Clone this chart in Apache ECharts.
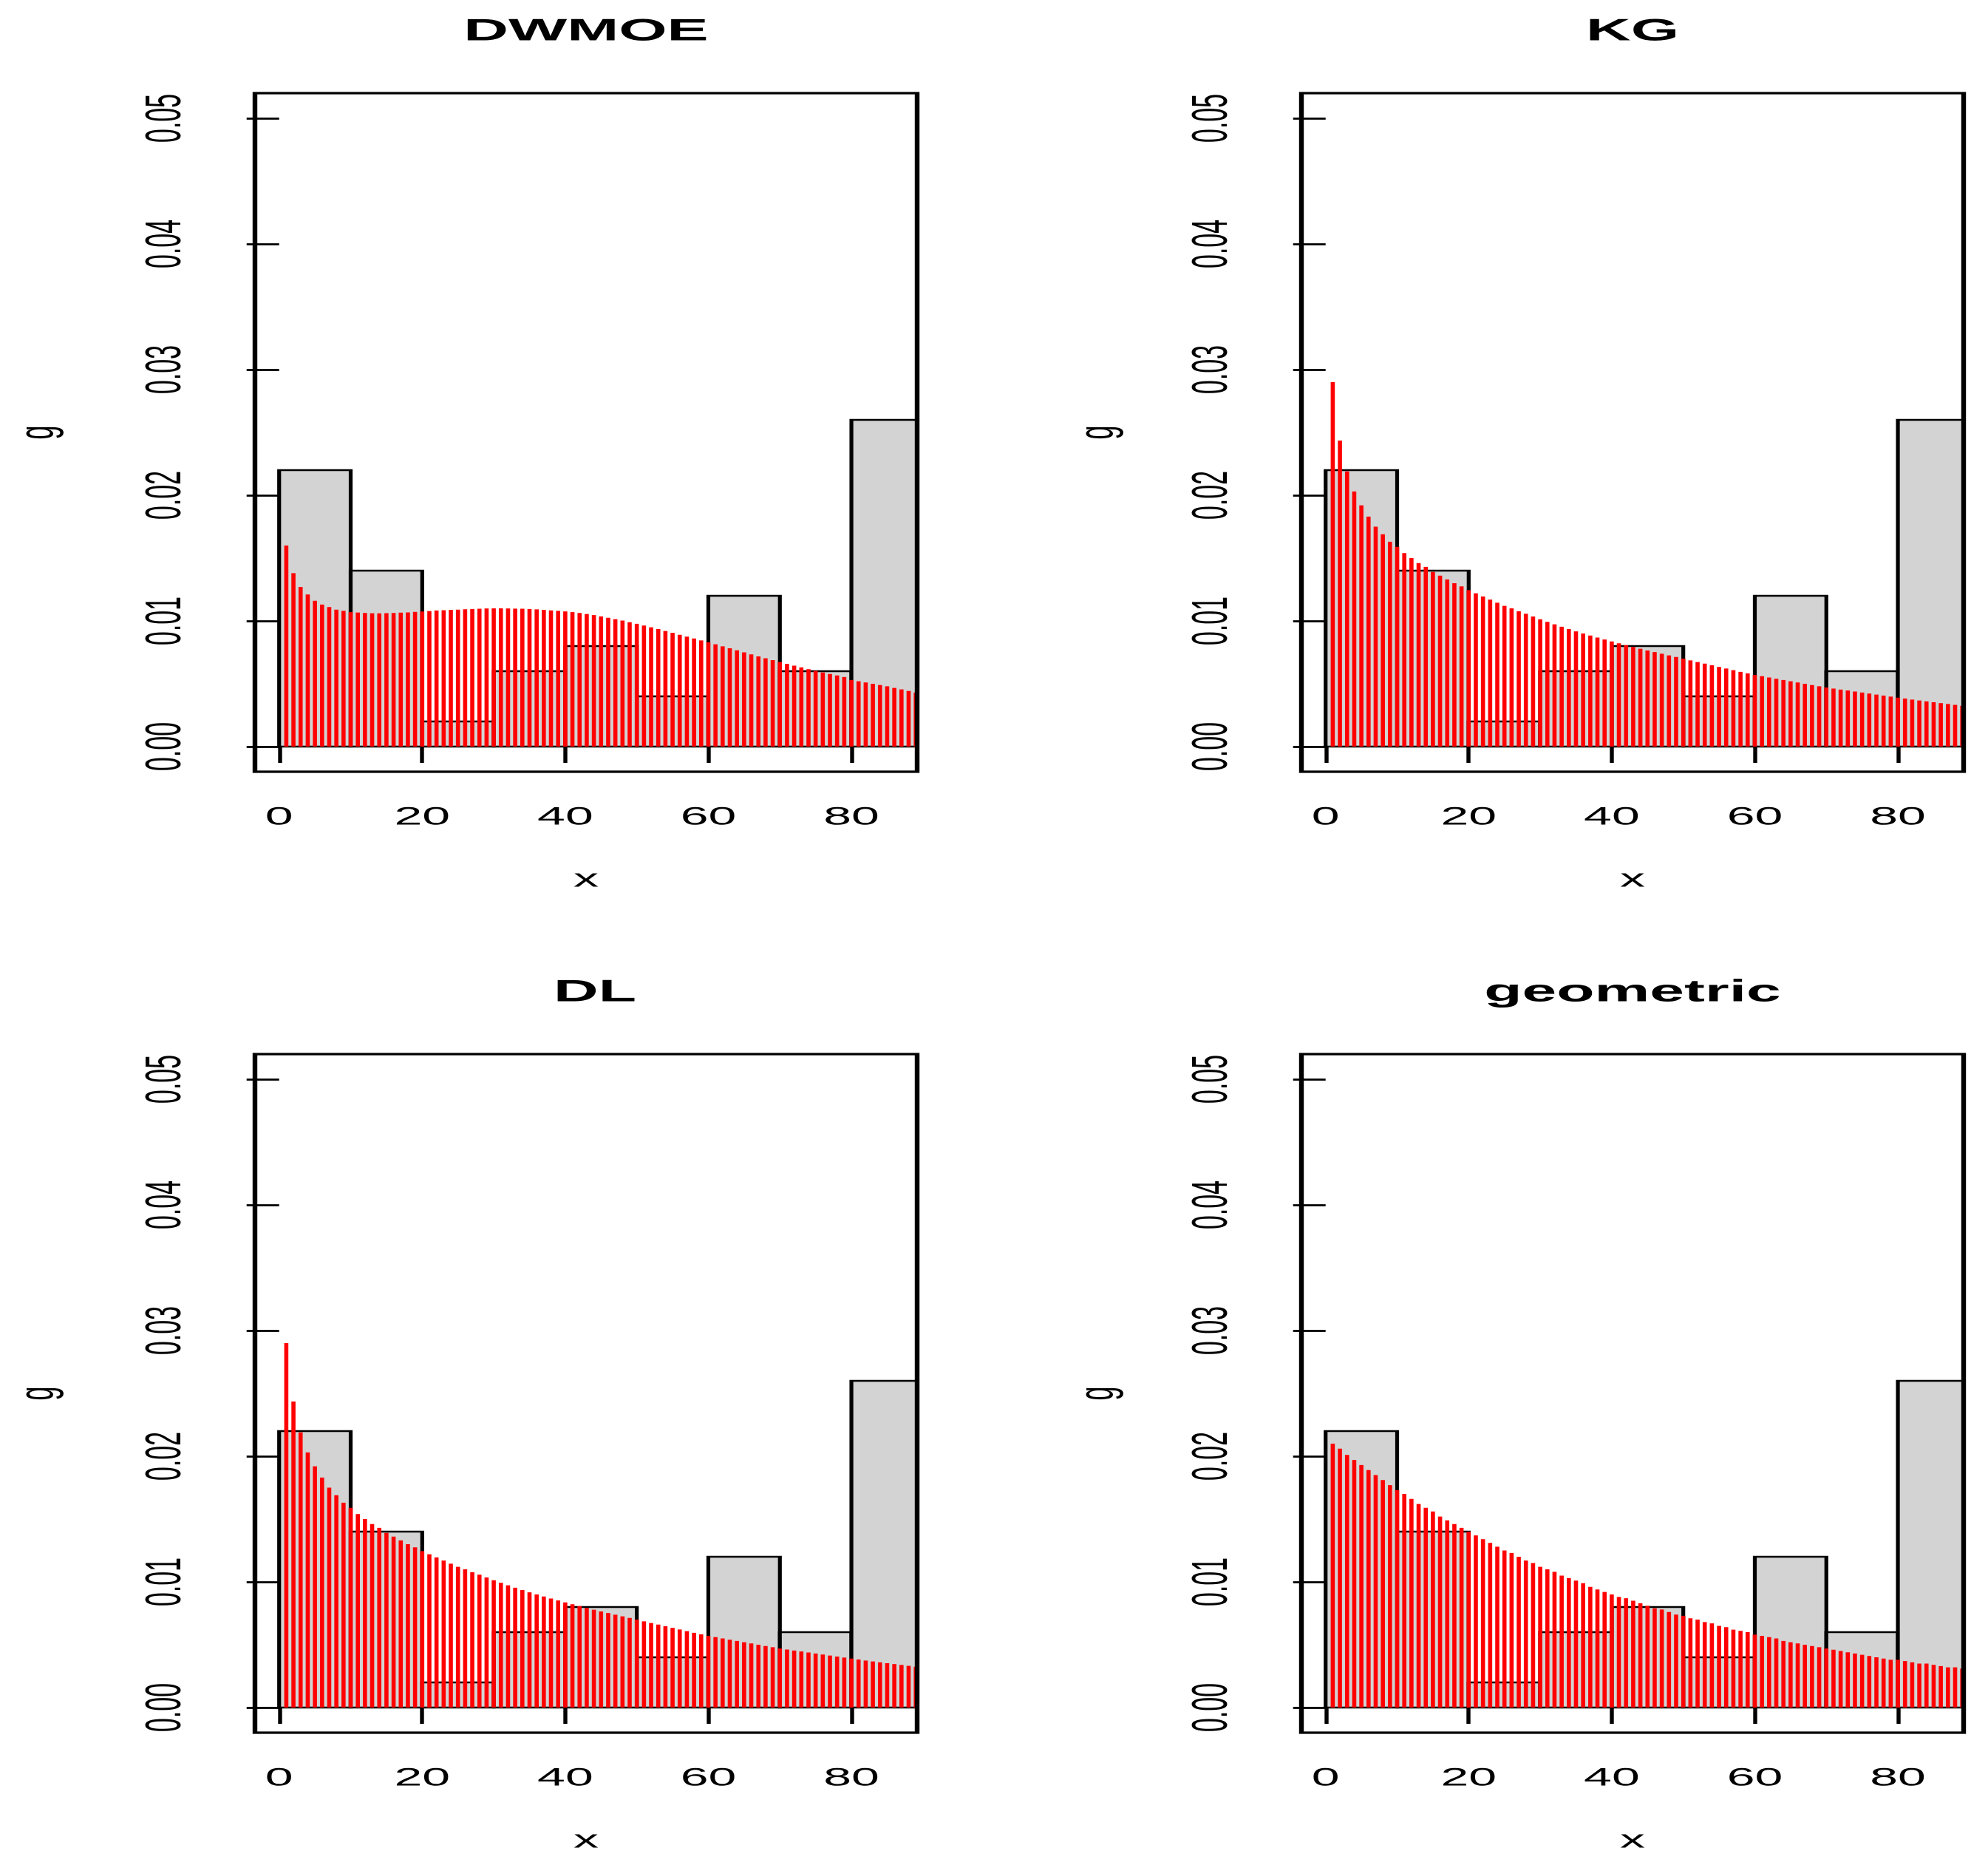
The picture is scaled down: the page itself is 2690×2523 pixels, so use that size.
<!DOCTYPE html>
<html><head><meta charset="utf-8">
<script src="https://cdn.jsdelivr.net/npm/echarts@6/dist/echarts.min.js"></script>
<style>
html,body{margin:0;padding:0;background:#fff;overflow:hidden;}
#wrap{width:2690px;height:2523px;overflow:hidden;background:#fff;}
#chart{width:1345px;height:2523px;transform:scaleX(2);transform-origin:0 0;}
</style></head><body><div id="wrap"><div id="chart"></div></div>
<script>
// ---------- data ----------
const panelTitles = ['DWMOE', 'KG', 'DL', 'geometric'];
const binStart = [0, 10, 20, 30, 40, 50, 60, 70, 80];
const binEnd   = [10, 20, 30, 40, 50, 60, 70, 80, 90];
const histDensity = [0.022, 0.014, 0.002, 0.006, 0.008, 0.004, 0.012, 0.006, 0.026];
const xTicks = [0, 20, 40, 60, 80];
const yTicks = [0, 0.01, 0.02, 0.03, 0.04, 0.05];
const support = [1,2,3,4,5,6,7,8,9,10,11,12,13,14,15,16,17,18,19,20,21,22,23,24,25,26,27,28,29,30,
  31,32,33,34,35,36,37,38,39,40,41,42,43,44,45,46,47,48,49,50,51,52,53,54,55,56,57,58,59,60,
  61,62,63,64,65,66,67,68,69,70,71,72,73,74,75,76,77,78,79,80,81,82,83,84,85,86,87,88,89];
const pmfDWMOE = [0.0160,0.0138,0.0127,0.0121,0.0116,0.0113,0.0111,0.0109,0.0108,0.0107,
  0.01067,0.01063,0.01061,0.0106,0.01062,0.01063,0.01066,0.01068,0.01072,0.01075,
  0.01079,0.01083,0.01085,0.01088,0.0109,0.01093,0.01095,0.01097,0.01099,0.0110,
  0.0110,0.01099,0.01098,0.01097,0.01094,0.01092,0.01088,0.01084,0.0108,0.01076,
  0.0107,0.01063,0.01055,0.01046,0.01036,0.01025,0.01014,0.01003,0.0099,0.00977,
  0.00963,0.00949,0.00935,0.0092,0.00905,0.0089,0.00875,0.0086,0.00845,0.0083,
  0.00814,0.00798,0.00782,0.00766,0.0075,0.00734,0.00718,0.00703,0.00688,0.00673,
  0.00658,0.00644,0.0063,0.00616,0.00603,0.0059,0.00578,0.00566,0.00554,0.0053,
  0.0052,0.0051,0.005,0.0049,0.0048,0.00467,0.00455,0.00443,0.0043];
const pmfKG = [0.0290,0.02435,0.0219,0.0203,0.0192,0.0183,0.0175,0.0169,0.0163,0.0159,
  0.0154,0.0150,0.0146,0.0143,0.0139,0.0136,0.0133,0.0130,0.01275,0.01245,
  0.0122,0.01195,0.0117,0.01145,0.0112,0.0110,0.01077,0.01057,0.01035,0.01013,
  0.00993,0.00973,0.00954,0.00935,0.00917,0.0090,0.00884,0.00868,0.00852,0.00837,
  0.00822,0.00807,0.00793,0.00779,0.00765,0.00752,0.00739,0.00726,0.00713,0.0070,
  0.00686,0.00673,0.0066,0.00647,0.00634,0.00621,0.00608,0.00595,0.00582,0.0057,
  0.0056,0.0055,0.0054,0.0053,0.0052,0.0051,0.0050,0.0049,0.0048,0.0047,
  0.00462,0.00454,0.00446,0.00438,0.0043,0.00422,0.00414,0.00406,0.00398,0.0039,
  0.00382,0.00374,0.00367,0.0036,0.00353,0.00346,0.00339,0.00332,0.00325];
const pmfDL = [0.0290,0.02435,0.0219,0.0203,0.0192,0.0183,0.0175,0.0169,0.0163,0.0159,
  0.0154,0.0150,0.0146,0.0143,0.0139,0.0136,0.0133,0.0130,0.01275,0.01245,
  0.0122,0.01195,0.0117,0.01145,0.0112,0.0110,0.01077,0.01057,0.01035,0.01013,
  0.00993,0.00973,0.00954,0.00935,0.00917,0.0090,0.00884,0.00868,0.00852,0.00837,
  0.00822,0.00807,0.00793,0.00779,0.00765,0.00752,0.00739,0.00726,0.00713,0.0070,
  0.00686,0.00673,0.0066,0.00647,0.00634,0.00621,0.00608,0.00595,0.00582,0.0057,
  0.0056,0.0055,0.0054,0.0053,0.0052,0.0051,0.0050,0.0049,0.0048,0.0047,
  0.00462,0.00454,0.00446,0.00438,0.0043,0.00422,0.00414,0.00406,0.00398,0.0039,
  0.00382,0.00374,0.00367,0.0036,0.00353,0.00346,0.00339,0.00332,0.00325];
const pmfGeometric = [0.0210,0.0206,0.0201,0.0197,0.0193,0.0189,0.0185,0.0181,0.0177,0.0173,
  0.0170,0.0166,0.0162,0.0159,0.0156,0.0152,0.0149,0.0146,0.0143,0.0140,
  0.0137,0.0134,0.0131,0.0128,0.0125,0.0123,0.0120,0.0117,0.0115,0.0112,
  0.0110,0.0108,0.0105,0.0103,0.0101,0.0099,0.0096,0.0094,0.0092,0.0090,
  0.0088,0.0087,0.0085,0.0083,0.0081,0.0079,0.0078,0.0076,0.0074,0.0073,
  0.0071,0.0070,0.0068,0.0067,0.0065,0.0064,0.0062,0.0061,0.0060,0.0058,
  0.0057,0.0056,0.0055,0.0053,0.0052,0.0051,0.0050,0.0049,0.0048,0.0047,
  0.0046,0.0045,0.0044,0.0043,0.0042,0.0041,0.0040,0.0039,0.0038,0.0038,
  0.0037,0.0036,0.0035,0.0035,0.0034,0.0033,0.0032,0.0032,0.0031];
const pmfs = [pmfDWMOE, pmfKG, pmfDL, pmfGeometric];

// ---------- layout (unstretched coordinates; page is stretched 2x horizontally) ----------
const FONT = '"Liberation Sans", Arial, Helvetica, sans-serif';
const panels = [
  {left: 172.5, top: 126, titleDx: 0, gDx: 0},
  {left: 880.5, top: 126, titleDx: 0, gDx: 9},
  {left: 172.5, top: 1426, titleDx: 6, gDx: 0},
  {left: 880.5, top: 1426, titleDx: 0, gDx: 9}
];
const PW = 448, PH = 918;

const histData = binStart.map((s, i) => [s, binEnd[i], histDensity[i]]);

function renderHist(params, api) {
  const x0 = api.value(0), x1 = api.value(1), h = api.value(2);
  const p0 = api.coord([x0, 0]);
  const p1 = api.coord([x1, h]);
  const cs = params.coordSys;
  const l = Math.max(p0[0], cs.x);
  const r = Math.min(p1[0], cs.x + cs.width);
  return {
    type: 'rect',
    shape: {x: l, y: p1[1], width: r - l, height: p0[1] - p1[1]},
    style: {fill: '#d3d3d3', stroke: '#000', lineWidth: 2.6}
  };
}

const grids = [], xAxes = [], yAxes = [], series = [], graphics = [];
panels.forEach((p, i) => {
  grids.push({left: p.left, top: p.top, width: PW, height: PH, show: true,
    borderColor: '#000', borderWidth: 3.2, backgroundColor: 'rgba(0,0,0,0)', z: 5});
  xAxes.push({type: 'value', gridIndex: i, min: -3.38, max: 89.19,
    axisLine: {show: false}, splitLine: {show: false},
    axisTick: {show: true, length: 22, customValues: xTicks, lineStyle: {color: '#000', width: 2.7}},
    axisLabel: {show: true, customValues: xTicks, margin: 45, color: '#000', fontSize: 34, fontFamily: FONT,
      formatter: v => String(v)}});
  yAxes.push({type: 'value', gridIndex: i, min: -0.002, max: 0.052,
    axisLine: {show: false}, splitLine: {show: false},
    axisTick: {show: true, length: 22, customValues: yTicks, lineStyle: {color: '#000', width: 2.7}},
    axisLabel: {show: true, customValues: yTicks, rotate: 90, margin: 43, color: '#000', fontSize: 34, fontFamily: FONT,
      formatter: v => v.toFixed(2)}});
  series.push({type: 'custom', xAxisIndex: i, yAxisIndex: i, renderItem: renderHist,
    data: histData, encode: {x: [0, 1], y: 2}, clip: true, silent: true, z: 2});
  series.push({type: 'bar', xAxisIndex: i, yAxisIndex: i, barWidth: 2.8,
    itemStyle: {color: '#ff0000'}, data: support.map((x, k) => [x, pmfs[i][k]]),
    clip: true, silent: true, animation: false, z: 3});
  const cx = p.left + PW / 2;
  graphics.push({type: 'text', x: cx + p.titleDx, y: p.top - 83, z: 10,
    style: {text: panelTitles[i], fontSize: 42, fontWeight: 'bold', fontFamily: FONT, fill: '#000',
      align: 'center', verticalAlign: 'middle'}});
  graphics.push({type: 'text', x: cx, y: p.top + 1064, z: 10,
    style: {text: 'x', fontSize: 34, fontFamily: FONT, fill: '#000', align: 'center', verticalAlign: 'middle'}});
  graphics.push({type: 'text', x: p.left - 146 + p.gDx, y: p.top + PH / 2, rotation: Math.PI / 2, z: 10,
    style: {text: 'g', fontSize: 34, fontFamily: FONT, fill: '#000', align: 'center', verticalAlign: 'middle'}});
});

const chart = echarts.init(document.getElementById('chart'), null, {renderer: 'canvas', devicePixelRatio: 2});
chart.setOption({
  animation: false,
  backgroundColor: '#fff',
  grid: grids, xAxis: xAxes, yAxis: yAxes, series: series, graphic: {elements: graphics}
});
</script></body></html>
